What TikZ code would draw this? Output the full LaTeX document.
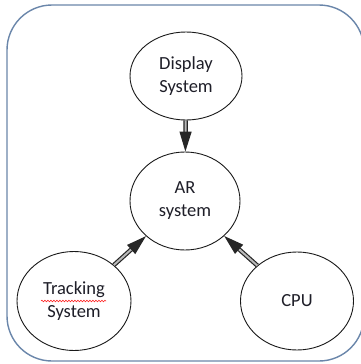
\documentclass[tikz,border=0pt]{standalone}
\usepackage{fontspec}
\setmainfont{Carlito}
\usetikzlibrary{shapes.geometric,arrows.meta,decorations.pathmorphing}
\definecolor{framecol}{HTML}{6A86AA}
\definecolor{txtcol}{HTML}{1E1E28}
\begin{document}
\begin{tikzpicture}[x=1pt,y=-1pt,
  unit/.style={ellipse,draw=black!90,line width=0.9pt,inner sep=0pt,align=center,
    font=\fontsize{18.5}{23}\selectfont,text=txtcol},
  link/.style={draw=black!85,double=gray!55,double distance=2pt,line width=1.2pt,
    -{Triangle[length=20pt,width=12pt]}},
  frame/.style={draw=framecol,line width=1.4pt,rounded corners=45pt},
  spell/.style={draw=red!85,line width=0.6pt,decorate,
    decoration={snake,amplitude=0.8pt,segment length=3pt}}
]
\useasboundingbox (0,0) rectangle (361,364);
\fill[white] (0,0) rectangle (361,364);
\draw[frame] (7,5) rectangle (364,361);

\node[unit,minimum width=112pt,minimum height=88pt] (disp) at (186,76) {Display\\System};
\node[unit,minimum width=110pt,minimum height=98pt] (ar) at (185,201) {AR\\system};
\node[unit,minimum width=114pt,minimum height=99pt] (track) at (74,301) {Tracking\\System};
\node[unit,minimum width=113pt,minimum height=98pt] (cpu) at (297,301) {CPU};

\draw[link] (disp) -- (ar);
\draw[link] (track) -- (ar);
\draw[link] (cpu) -- (ar);

\draw[spell] (41,301) -- (106,301);
\end{tikzpicture}
\end{document}
